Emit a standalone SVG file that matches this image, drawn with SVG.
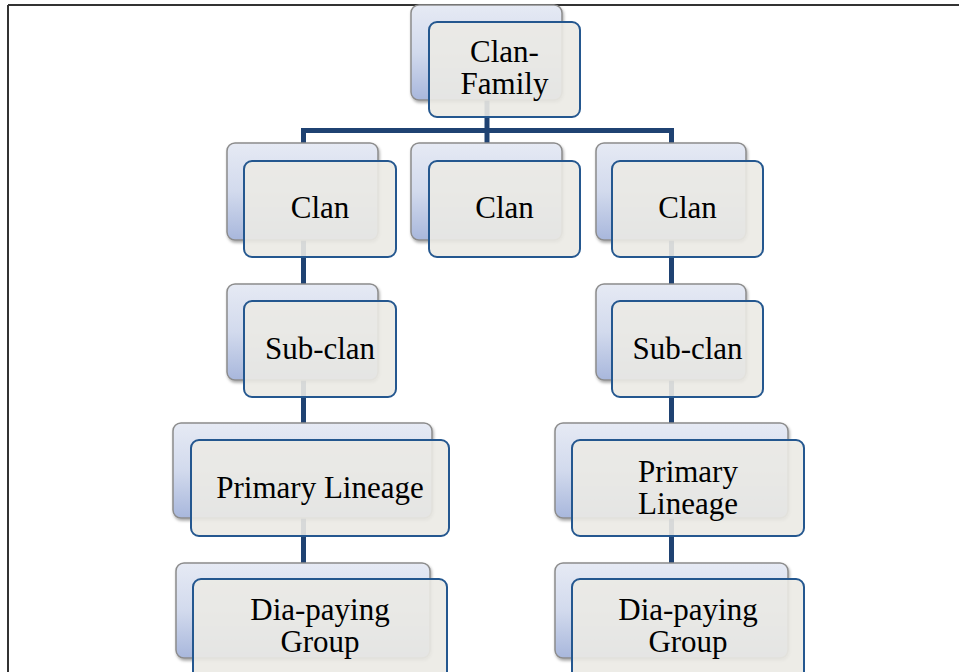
<svg xmlns="http://www.w3.org/2000/svg" width="959" height="672" viewBox="0 0 959 672">
<style>
  .back { fill: url(#backGrad); stroke: #8c8c8c; stroke-width: 1.5; filter: url(#shadow); }
  .front { fill: #ebeae4; fill-opacity: 0.9; stroke: #24578f; stroke-width: 2; }
  .lbl { font-family: "Liberation Serif", "Times New Roman", serif; font-size: 31px; fill: #000; text-anchor: middle; }
  .conn { stroke: #1f4272; stroke-width: 5; fill: none; }
</style>
<defs>
  <linearGradient id="backGrad" x1="0" y1="0" x2="0" y2="1">
    <stop offset="0" stop-color="#e6eaf4"/>
    <stop offset="0.5" stop-color="#d2daed"/>
    <stop offset="1" stop-color="#a8b7dc"/>
  </linearGradient>
  <filter id="shadow" x="-10%" y="-10%" width="125%" height="130%">
    <feDropShadow dx="1" dy="2" stdDeviation="1.5" flood-color="#000" flood-opacity="0.35"/>
  </filter>
</defs>
<rect width="959" height="672" fill="#fff"/>
<g id="frame" stroke="#333" stroke-width="2" fill="none">
  <line x1="8" y1="5" x2="959" y2="5"/>
  <line x1="8" y1="5" x2="8" y2="672"/>
</g>
<g id="connectors">
  <line class="conn" x1="487" y1="100" x2="487" y2="130.5"/>
  <polyline class="conn" points="303.5,145 303.5,130.5 671.5,130.5 671.5,145"/>
  <line class="conn" x1="487" y1="130.5" x2="487" y2="145"/>
  <line class="conn" x1="303.5" y1="240" x2="303.5" y2="565"/>
  <line class="conn" x1="671.5" y1="240" x2="671.5" y2="565"/>
</g>
<g id="clan-family">
  <rect class="back" x="411" y="5" width="151" height="95" rx="8"/>
  <rect class="front" x="429" y="22" width="151" height="95" rx="8"/>
  <text class="lbl" x="504.5" y="62">Clan-</text>
  <text class="lbl" x="504.5" y="94">Family</text>
</g>
<g id="clan-left">
  <rect class="back" x="227" y="143" width="151" height="97" rx="8"/>
  <rect class="front" x="244" y="161" width="152" height="96" rx="8"/>
  <text class="lbl" x="320" y="218">Clan</text>
</g>
<g id="clan-middle">
  <rect class="back" x="411" y="143" width="151" height="97" rx="8"/>
  <rect class="front" x="429" y="161" width="151" height="96" rx="8"/>
  <text class="lbl" x="504.5" y="218">Clan</text>
</g>
<g id="clan-right">
  <rect class="back" x="596" y="143" width="150" height="97" rx="8"/>
  <rect class="front" x="612" y="161" width="151" height="96" rx="8"/>
  <text class="lbl" x="687.5" y="218">Clan</text>
</g>
<g id="subclan-left">
  <rect class="back" x="227" y="284" width="151" height="96" rx="8"/>
  <rect class="front" x="244" y="301" width="152" height="96" rx="8"/>
  <text class="lbl" x="320" y="359">Sub-clan</text>
</g>
<g id="subclan-right">
  <rect class="back" x="596" y="284" width="150" height="96" rx="8"/>
  <rect class="front" x="612" y="301" width="151" height="96" rx="8"/>
  <text class="lbl" x="687.5" y="359">Sub-clan</text>
</g>
<g id="lineage-left">
  <rect class="back" x="173" y="423" width="259" height="95" rx="8"/>
  <rect class="front" x="191" y="440" width="258" height="96" rx="8"/>
  <text class="lbl" x="320" y="498">Primary Lineage</text>
</g>
<g id="lineage-right">
  <rect class="back" x="555" y="423" width="233" height="95" rx="8"/>
  <rect class="front" x="572" y="440" width="232" height="96" rx="8"/>
  <text class="lbl" x="688" y="482">Primary</text>
  <text class="lbl" x="688" y="514">Lineage</text>
</g>
<g id="dia-left">
  <rect class="back" x="176" y="563" width="254" height="95" rx="8"/>
  <rect class="front" x="193" y="579" width="254" height="110" rx="8"/>
  <text class="lbl" x="320" y="620">Dia-paying</text>
  <text class="lbl" x="320" y="652">Group</text>
</g>
<g id="dia-right">
  <rect class="back" x="555" y="563" width="233" height="95" rx="8"/>
  <rect class="front" x="572" y="579" width="232" height="110" rx="8"/>
  <text class="lbl" x="688" y="620">Dia-paying</text>
  <text class="lbl" x="688" y="652">Group</text>
</g>
</svg>
